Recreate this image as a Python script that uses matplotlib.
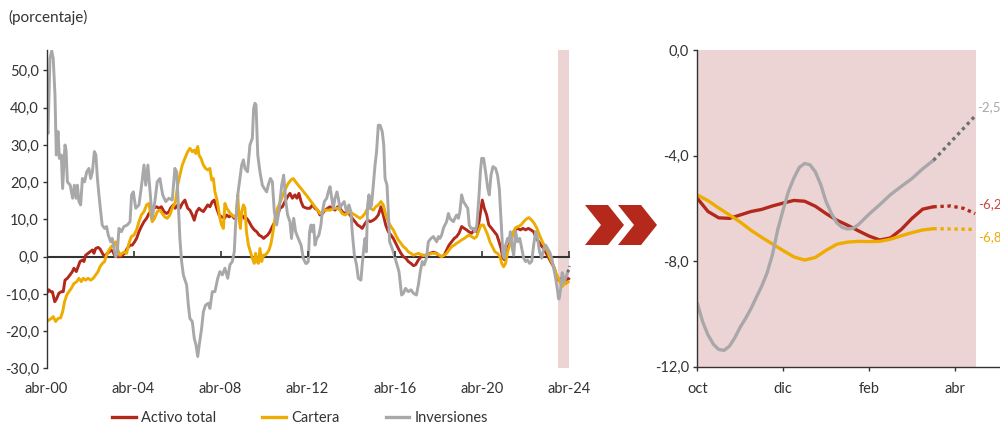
import matplotlib
matplotlib.use("Agg")
import matplotlib.pyplot as plt
from matplotlib.patches import Polygon
from matplotlib.lines import Line2D
from matplotlib.ticker import FixedLocator, FuncFormatter

plt.rcParams['font.family'] = ['Lato', 'DejaVu Sans']

RED = '#b2291c'
YELLOW = '#eeac00'
GRAY = '#a8a8aa'
GRAY_PROJ = '#707070'
SHADE = '#ecd4d4'
TEXT = '#333333'
AXIS = '#333333'
FS = 10.5

# ---------------- history: years since April 2000 ----------------
gray_t = [0.01, 0.07, 0.16, 0.24, 0.31, 0.39, 0.45, 0.53, 0.59, 0.68, 0.74, 0.85, 0.9, 0.96,
          1.09, 1.2, 1.28, 1.36, 1.42, 1.49, 1.57, 1.65, 1.75, 1.85, 1.95, 2.03, 2.11, 2.2,
          2.27, 2.34, 2.41, 2.49, 2.56, 2.67, 2.76, 2.84, 2.95, 3.02, 3.1, 3.18, 3.25, 3.33,
          3.44, 3.56, 3.71, 3.84, 3.91, 3.99, 4.1, 4.25, 4.37, 4.48, 4.56, 4.66, 4.76, 4.86,
          4.98, 5.09, 5.21, 5.34, 5.48, 5.63, 5.78, 5.9, 5.98, 6.06, 6.13, 6.21, 6.29, 6.44,
          6.52, 6.59, 6.7, 6.79, 6.87, 6.95, 7.02, 7.13, 7.21, 7.31, 7.44, 7.51, 7.62, 7.74,
          7.87, 7.97, 8.08, 8.2, 8.33, 8.43, 8.54, 8.63, 8.69, 8.79, 8.89, 8.97, 9.05, 9.12,
          9.24, 9.35, 9.46, 9.52, 9.58, 9.63, 9.71, 9.81, 9.92, 10.01, 10.12, 10.19, 10.29,
          10.38, 10.47, 10.58, 10.68, 10.81, 10.9, 11.0, 11.08, 11.19, 11.26, 11.36, 11.45,
          11.57, 11.7, 11.8, 11.91, 11.96, 12.03, 12.09, 12.16, 12.22, 12.28, 12.34, 12.42,
          12.52, 12.61, 12.68, 12.77, 12.88, 12.95, 13.03, 13.11, 13.18, 13.26, 13.35, 13.41,
          13.49, 13.56, 13.68, 13.79, 13.9, 13.99, 14.05, 14.15, 14.25, 14.33, 14.45, 14.51,
          14.58, 14.64, 14.7, 14.76, 14.82, 14.88, 14.94, 15.02, 15.1, 15.17, 15.25, 15.33,
          15.43, 15.5, 15.56, 15.65, 15.71, 15.77, 15.83, 15.94, 16.02, 16.11, 16.2, 16.32,
          16.41, 16.5, 16.63, 16.75, 16.86, 17.0, 17.09, 17.18, 17.27, 17.36, 17.46, 17.55,
          17.67, 17.78, 17.93, 18.01, 18.08, 18.16, 18.24, 18.31, 18.39, 18.47, 18.54, 18.62,
          18.7, 18.77, 18.85, 18.93, 19.0, 19.08, 19.16, 19.26, 19.36, 19.43, 19.51, 19.62,
          19.69, 19.78, 19.88, 19.94, 20.0, 20.09, 20.18, 20.28, 20.35, 20.43, 20.52, 20.64,
          20.73, 20.81, 20.87, 20.92, 20.98, 21.04, 21.1, 21.19, 21.25, 21.32, 21.41, 21.47,
          21.56, 21.65, 21.75, 21.84, 21.93, 22.02, 22.11, 22.2, 22.3, 22.39, 22.48, 22.57,
          22.66, 22.76, 22.85, 22.94, 23.03, 23.12, 23.22, 23.31, 23.4]
gray_v = [36.2, 33.1, 53.2, 55.3, 53.2, 43.4, 27.3, 33.6, 26.4, 27.3, 18.3, 30.0, 28.5, 20.1,
          19.2, 15.7, 19.2, 15.7, 19.2, 14.8, 13.9, 21.0, 20.1, 22.8, 23.7, 21.0, 22.8, 28.2,
          27.3, 21.0, 16.6, 12.1, 8.5, 7.6, 8.1, 5.8, 4.0, 4.9, 2.2, 0.0, 0.9, 7.6,
          6.7, 8.1, 8.5, 9.4, 16.6, 17.4, 13.0, 13.9, 19.2, 24.6, 19.2, 24.6, 17.4, 10.3,
          14.8, 20.1, 21.0, 16.6, 14.8, 15.7, 15.2, 23.7, 22.8, 13.9, 4.9, -1.3, -4.9, -7.6,
          -13.0, -16.6, -17.4, -21.9, -23.7, -26.8, -23.7, -19.2, -14.8, -13.0, -12.5, -13.9, -9.4, -9.4,
          -5.8, -4.0, -4.9, -3.1, -5.8, -2.2, -1.3, 1.3, 8.5, 16.6, 21.0, 24.6, 26.0, 23.7,
          22.8, 30.0, 31.8, 39.8, 41.2, 40.7, 27.3, 22.8, 19.2, 18.3, 17.4, 19.2, 21.0,
          20.1, 12.1, 8.5, 12.1, 19.2, 21.9, 14.8, 11.2, 9.4, 4.9, 10.3, 6.7,
          4.9, 3.1, -0.4, -1.8, -1.8, -1.3, 6.7, 8.5, 6.7, 8.5, 3.1, 4.9,
          5.8, 8.5, 12.1, 14.8, 15.7, 17.4, 18.8, 15.7, 13.0, 15.7, 17.4, 15.7,
          13.0, 13.9, 14.8, 12.1, 13.9, 12.1, 6.7, 0.4, -2.2, -5.8, -6.3, -2.2,
          2.2, 4.9, 1.3, 13.9, 16.6, 13.0, 13.9, 19.2, 24.6, 28.2, 35.3, 35.3,
          33.6, 30.0, 21.0, 19.2, 12.1, 4.0, 3.1, 1.3, -0.4, -2.2, -4.0, -10.3,
          -9.8, -8.5, -9.4, -8.9, -9.8, -10.3, -7.6, -4.0, -1.3, -2.2, -0.4, 4.0,
          4.9, 5.4, 4.0, 5.4, 4.9, 5.8, 7.6, 8.5, 9.4, 11.6, 10.3, 9.8,
          9.4, 10.3, 11.2, 10.3, 12.1, 16.6, 14.8, 13.9, 13.0, 8.5, 7.6, 7.6,
          6.7, 8.5, 16.6, 22.8, 26.4, 26.4, 22.8, 18.3, 16.6, 21.9, 24.2, 23.7,
          21.9, 18.3, 12.1, 6.7, 0.4, -0.4, 3.1, 4.9, 4.0, 6.7, 2.2, 0.4,
          6.7, 4.0, 4.9, 2.2, -0.4, -1.3, -0.9, -1.8, -1.3, 3.1, 6.7, 4.9,
          1.3, -0.4, 2.2, 3.1, 2.2, 1.3, -0.4, -3.1, -5.8]

red_t = [0.01, 0.11, 0.19, 0.27, 0.38, 0.47, 0.57, 0.68, 0.77, 0.85, 0.96, 1.08, 1.19, 1.26,
         1.37, 1.45, 1.54, 1.65, 1.72, 1.8, 1.91, 2.0, 2.11, 2.18, 2.26, 2.37, 2.46, 2.57,
         2.67, 2.79, 2.89, 2.95, 3.04, 3.13, 3.25, 3.38, 3.48, 3.59, 3.71, 3.84, 3.94, 4.05,
         4.14, 4.25, 4.36, 4.48, 4.6, 4.71, 4.82, 4.94, 5.06, 5.17, 5.28, 5.4, 5.52, 5.63,
         5.7, 5.83, 5.91, 6.03, 6.13, 6.24, 6.36, 6.49, 6.59, 6.7, 6.79, 6.9, 7.01, 7.1,
         7.21, 7.31, 7.41, 7.51, 7.62, 7.71, 7.82, 7.93, 8.05, 8.17, 8.28, 8.39, 8.51, 8.63,
         8.74, 8.85, 8.97, 9.09, 9.2, 9.31, 9.43, 9.55, 9.66, 9.77, 9.89, 9.98, 10.07, 10.16,
         10.27, 10.38, 10.5, 10.62, 10.73, 10.84, 10.96, 11.08, 11.19, 11.3, 11.42, 11.51,
         11.6, 11.7, 11.8, 11.96, 12.11, 12.22, 12.34, 12.46, 12.57, 12.68, 12.8, 12.92,
         13.03, 13.14, 13.26, 13.38, 13.49, 13.59, 13.72, 13.84, 13.95, 14.05, 14.18, 14.3,
         14.41, 14.51, 14.64, 14.76, 14.88, 15.02, 15.13, 15.25, 15.37, 15.48, 15.59, 15.71,
         15.83, 15.94, 16.05, 16.17, 16.29, 16.4, 16.51, 16.63, 16.75, 16.86, 16.96, 17.09,
         17.21, 17.32, 17.47, 17.62, 17.78, 17.93, 18.01, 18.16, 18.28, 18.39, 18.5, 18.62,
         18.74, 18.85, 18.96, 19.08, 19.2, 19.31, 19.41, 19.54, 19.66, 19.77, 19.88, 19.97,
         20.03, 20.12, 20.23, 20.33, 20.46, 20.58, 20.7, 20.8, 20.89, 20.98, 21.07, 21.16,
         21.25, 21.35, 21.44, 21.53, 21.65, 21.78, 21.9, 22.02, 22.14, 22.26, 22.39, 22.51,
         22.63, 22.72, 22.85, 22.97, 23.09, 23.22, 23.34, 23.42]
red_v = [-9.8, -8.9, -9.4, -9.4, -12.1, -11.2, -9.8, -9.4, -9.4, -6.3, -5.8, -4.9, -4.0, -3.1,
         -4.0, -2.7, -1.3, -0.9, -1.3, 0.4, 0.9, 1.3, 1.8, 0.9, 2.2, 2.5, 2.1, 0.9,
         0.0, 0.9, 1.3, 1.8, 1.5, 0.4, 0.0, 0.0, 0.4, 0.9, 2.2, 3.1, 3.1, 4.0,
         4.9, 6.7, 8.1, 9.4, 10.3, 11.6, 12.1, 13.0, 13.4, 13.0, 13.4, 12.1, 11.6, 12.1,
         13.0, 13.9, 13.0, 13.9, 13.0, 14.3, 15.2, 13.0, 12.5, 11.2, 9.8, 12.1, 13.0, 12.5,
         12.1, 13.0, 13.9, 13.4, 14.8, 15.2, 13.0, 11.2, 10.7, 10.3, 11.2, 10.7, 11.2, 10.3,
         11.2, 11.6, 11.2, 10.3, 10.3, 9.4, 8.1, 7.2, 6.7, 5.8, 5.4, 4.9, 5.4, 5.8,
         6.7, 8.1, 9.4, 11.2, 13.0, 13.4, 14.8, 16.1, 17.0, 15.7, 16.6, 15.7,
         17.0, 14.8, 13.4, 13.0, 13.0, 13.9, 13.0, 12.5, 11.2, 11.6, 12.5, 13.0,
         13.4, 13.0, 12.5, 13.4, 13.0, 12.1, 11.6, 12.1, 11.2, 10.3, 9.4, 8.5,
         8.1, 7.6, 8.9, 9.8, 9.4, 9.8, 10.3, 11.2, 13.4, 11.2, 8.5, 6.7,
         5.8, 4.9, 3.6, 2.2, 0.9, 0.0, -0.4, -1.3, -1.8, -2.4, -2.2, -0.9,
         0.0, 0.4, 0.3, 0.9, 1.2, 0.9, 0.4, 0.0, 0.4, 1.8, 3.1, 4.0,
         4.9, 5.4, 6.3, 8.1, 7.6, 7.2, 6.7, 6.3, 7.2, 6.7, 9.4, 13.0,
         15.2, 13.0, 11.2, 8.5, 7.6, 6.7, 5.8, 4.0, 2.2, -0.4, -0.9, 1.3,
         3.1, 4.9, 6.3, 7.2, 7.6, 7.2, 7.6, 7.2, 7.6, 7.2, 6.7, 4.9,
         4.0, 3.1, 2.2, 0.9, -0.4, -1.8, -3.1, -4.9]

yellow_t = [0.01, 0.11, 0.22, 0.31, 0.42, 0.53, 0.65, 0.74, 0.83, 0.93, 1.03, 1.14, 1.26, 1.39,
            1.49, 1.6, 1.69, 1.8, 1.91, 2.03, 2.15, 2.26, 2.37, 2.46, 2.57, 2.67, 2.76, 2.87,
            2.98, 3.07, 3.18, 3.25, 3.38, 3.48, 3.59, 3.68, 3.79, 3.9, 4.02, 4.14, 4.25, 4.36,
            4.48, 4.6, 4.71, 4.79, 4.86, 4.97, 5.09, 5.21, 5.32, 5.43, 5.55, 5.67, 5.78, 5.93,
            6.03, 6.13, 6.24, 6.36, 6.49, 6.59, 6.7, 6.79, 6.86, 6.95, 7.01, 7.1, 7.21, 7.31,
            7.41, 7.51, 7.59, 7.67, 7.74, 7.82, 7.9, 7.97, 8.05, 8.13, 8.2, 8.28, 8.39, 8.51,
            8.63, 8.72, 8.79, 8.85, 8.91, 8.97, 9.05, 9.12, 9.19, 9.28, 9.37, 9.46, 9.55, 9.61,
            9.67, 9.74, 9.81, 9.89, 9.97, 10.04, 10.13, 10.23, 10.32, 10.41, 10.5, 10.62, 10.75,
            10.87, 10.99, 11.11, 11.24, 11.34, 11.45, 11.57, 11.7, 11.82, 12.0, 12.11, 12.22,
            12.34, 12.46, 12.57, 12.68, 12.8, 13.03, 13.26, 13.38, 13.49, 13.59, 13.72, 13.84,
            13.95, 14.05, 14.18, 14.3, 14.41, 14.51, 14.64, 14.76, 14.88, 15.02, 15.13, 15.25,
            15.37, 15.48, 15.59, 15.71, 15.83, 15.94, 16.05, 16.17, 16.29, 16.4, 16.51, 16.63,
            16.75, 16.86, 16.96, 17.09, 17.21, 17.32, 17.43, 17.55, 17.7, 17.86, 18.01, 18.16,
            18.28, 18.39, 18.5, 18.62, 18.74, 18.85, 18.96, 19.08, 19.2, 19.31, 19.41, 19.54,
            19.66, 19.77, 19.88, 19.97, 20.08, 20.15, 20.28, 20.38, 20.49, 20.61, 20.73, 20.84,
            20.92, 21.01, 21.1, 21.19, 21.29, 21.38, 21.47, 21.56, 21.68, 21.81, 21.93, 22.05,
            22.17, 22.3, 22.42, 22.54, 22.66, 22.79, 22.91, 23.03, 23.14, 23.25, 23.34, 23.42]
yellow_v = [-17.4, -17.0, -16.6, -16.1, -17.4, -16.6, -16.4, -14.8, -12.1, -10.3, -9.4, -8.5, -7.2, -6.7,
            -5.8, -6.7, -5.8, -6.3, -5.8, -6.3, -5.8, -4.9, -4.0, -2.7, -1.8, -1.3, 0.4, 1.8,
            2.7, 3.1, 4.0, 2.2, 0.4, 0.9, 1.3, 0.9, 3.6, 5.4, 5.8, 7.2, 9.4, 11.2,
            12.1, 13.9, 14.3, 11.2, 9.4, 10.3, 12.1, 12.5, 11.6, 10.7, 10.3, 11.2, 13.0, 14.8,
            19.2, 21.9, 24.6, 26.4, 28.2, 29.1, 28.2, 28.6, 27.7, 29.6, 27.3, 26.4, 24.6, 23.7,
            23.3, 23.7, 20.6, 21.0, 17.4, 15.7, 13.0, 10.3, 8.5, 7.6, 14.3, 13.0, 12.1, 11.2,
            10.7, 11.2, 16.6, 10.3, 7.6, 12.1, 13.9, 13.0, 6.7, 3.1, 1.3, -0.4, -1.8, 0.9,
            -1.3, -1.8, 2.2, -1.3, 0.4, 0.4, 0.9, 1.8, 3.6, 6.7, 10.3, 13.0, 14.8,
            16.6, 18.3, 19.7, 20.6, 21.0, 20.1, 19.2, 18.3, 17.4, 16.1, 15.2, 14.3,
            13.4, 12.5, 11.6, 12.1, 12.5, 12.5, 13.0, 13.0, 12.5, 11.6, 11.2, 11.6,
            12.1, 11.6, 11.2, 10.7, 10.3, 10.7, 11.6, 13.0, 13.0, 12.5, 13.4, 13.9,
            14.8, 13.9, 11.2, 9.4, 8.1, 7.2, 5.8, 4.5, 3.6, 2.7, 2.2, 1.3,
            0.9, 0.4, 0.6, 0.9, 0.6, 0.3, 0.4, 0.6, 0.9, 0.9, 0.6, 0.0,
            0.4, 0.9, 1.8, 2.7, 3.1, 3.6, 4.0, 4.5, 4.9, 5.4, 5.8, 5.4,
            4.9, 5.4, 7.2, 8.5, 8.5, 7.6, 5.8, 4.0, 2.7, 1.3, 0.9, 0.0,
            -1.8, -2.7, -1.8, 1.3, 3.1, 4.9, 6.7, 7.8, 8.1, 8.5, 9.4, 10.1,
            10.5, 9.8, 8.9, 7.6, 5.8, 4.0, 2.7, 1.3, -0.4, -1.8, -3.1, -4.5]

# ---------------- recent weekly data: months since October 2023 ----------------
recent_m = [0, 0.25, 0.5, 0.75, 1.0, 1.25, 1.5, 1.75, 2.0, 2.25, 2.5, 2.75,
            3.0, 3.25, 3.5, 3.75, 4.0, 4.25, 4.5, 4.75, 5.0, 5.25, 5.5]
recent_red = [-5.62, -6.12, -6.36, -6.38, -6.25, -6.12, -6.04, -5.91, -5.80, -5.70, -5.73, -5.92,
              -6.20, -6.45, -6.64, -6.85, -7.05, -7.20, -7.12, -6.80, -6.38, -6.03, -5.94]
recent_yellow = [-5.49, -5.71, -5.99, -6.25, -6.52, -6.83, -7.10, -7.35, -7.60, -7.84, -7.96, -7.86,
                 -7.59, -7.36, -7.28, -7.25, -7.26, -7.25, -7.17, -7.04, -6.92, -6.82, -6.77]
# investments are observed more often
gray_m = [0, 0.125, 0.25, 0.375, 0.5, 0.625, 0.75, 0.875, 1.0, 1.125, 1.25, 1.375, 1.5, 1.625,
          1.75, 1.875, 2.0, 2.125, 2.25, 2.375, 2.5, 2.625, 2.75, 2.875, 3.0, 3.125, 3.25,
          3.375, 3.5, 3.625, 3.75, 3.875, 4.0, 4.25, 4.5, 4.75, 5.0, 5.25, 5.5]
recent_gray = [-9.60, -10.30, -10.80, -11.15, -11.35, -11.38, -11.22, -10.90, -10.50, -10.17,
               -9.80, -9.37, -8.95, -8.45, -7.75, -6.80, -6.05, -5.35, -4.85, -4.45, -4.30,
               -4.35, -4.62, -5.10, -5.75, -6.20, -6.55, -6.72, -6.78, -6.76, -6.62, -6.42,
               -6.22, -5.86, -5.48, -5.17, -4.87, -4.50, -4.18]

# projection to mid-April
proj_m = [5.5, 5.9, 6.2, 6.47]
proj_red = [-5.94, -5.91, -6.00, -6.2]
proj_yellow = [-6.77, -6.78, -6.79, -6.8]
proj_gray = [-4.18, -3.49, -2.97, -2.5]

names = ['Activo total', 'Cartera', 'Inversiones']
colors = [RED, YELLOW, GRAY]
proj_colors = [RED, YELLOW, GRAY_PROJ]

left_ticks = [0, 4, 8, 12, 16, 20, 24]
left_labels = ['abr-00', 'abr-04', 'abr-08', 'abr-12', 'abr-16', 'abr-20', 'abr-24']
right_ticks = [0, 2, 4, 6]
right_labels = ['oct', 'dic', 'feb', 'abr']


def comma(v, _pos=None):
    return f"{v:.1f}".replace('.', ',')


W, H = 1000, 424
fig = plt.figure(figsize=(W / 100, H / 100), dpi=100)

# ---------------- left panel ----------------
axl = fig.add_axes([46.5 / W, 1 - 368.4 / H, (570 - 46.5) / W, 318.4 / H])
axl.set_xlim(0, 24.06)
axl.set_ylim(-30, 55.5)
axl.axvspan(23.5, 24.0, color=SHADE, zorder=0, lw=0)
axl.axhline(0, color=AXIS, lw=1.5, zorder=1)

off = 23.5
series = [(red_t, red_v, recent_m, recent_red, proj_red),
          (yellow_t, yellow_v, recent_m, recent_yellow, proj_yellow),
          (gray_t, gray_v, gray_m, recent_gray, proj_gray)]
for (t, v, rm, rec, pr), c, pc in zip(series, colors, proj_colors):
    xs = list(t) + [off + m / 12 for m in rm]
    ys = list(v) + list(rec)
    axl.plot(xs, ys, color=c, lw=2.1, zorder=2, solid_joinstyle='round')
    axl.plot([off + m / 12 for m in proj_m], pr, color=pc, lw=2.0,
             linestyle=(0, (1, 1)), zorder=2, clip_on=False)

axl.plot(left_ticks[1:], [0] * (len(left_ticks) - 1), linestyle='none', marker=2,
         markersize=4, markeredgewidth=1.2, color=AXIS, zorder=3)

for s in ['top', 'right', 'bottom']:
    axl.spines[s].set_visible(False)
axl.spines['left'].set_color(AXIS)
axl.spines['left'].set_linewidth(1.0)
axl.yaxis.set_major_locator(FixedLocator([50, 40, 30, 20, 10, 0, -10, -20, -30]))
axl.yaxis.set_major_formatter(FuncFormatter(comma))
axl.set_xticks(left_ticks)
axl.set_xticklabels(left_labels)
axl.tick_params(axis='x', length=0, pad=10, labelsize=FS, labelcolor=TEXT)
axl.tick_params(axis='y', length=3, width=1, color=AXIS, pad=2.5, labelsize=FS, labelcolor=TEXT)

# ---------------- right panel ----------------
axr = fig.add_axes([697.3 / W, 1 - 366.7 / H, (W - 697.3) / W, 316.7 / H])
axr.set_xlim(0, 7.05)
axr.set_ylim(-12, 0)
axr.axvspan(0, 6.5, color=SHADE, zorder=0, lw=0)
for (t, v, rm, rec, pr), c, pc in zip(series, colors, proj_colors):
    axr.plot(rm, rec, color=c, lw=2.4, zorder=2, solid_joinstyle='round',
             solid_capstyle='round')
    axr.plot(proj_m, pr, color=pc, lw=2.4, linestyle=(0, (1, 1.1)), zorder=2)

label_offsets = [(3, 9), (3, -8), (2, 9)]
label_colors = ['#c9483a', YELLOW, GRAY]
for pr, lc, (dx, dy) in zip([proj_red, proj_yellow, proj_gray], label_colors, label_offsets):
    axr.annotate(comma(pr[-1]), (proj_m[-1], pr[-1]), xytext=(dx, dy),
                 textcoords='offset pixels', color=lc, fontsize=9.5,
                 ha='left', va='center', annotation_clip=False)

for s in ['top', 'right']:
    axr.spines[s].set_visible(False)
for s in ['left', 'bottom']:
    axr.spines[s].set_color(AXIS)
    axr.spines[s].set_linewidth(1.0)
axr.yaxis.set_major_locator(FixedLocator([0, -4, -8, -12]))
axr.yaxis.set_major_formatter(FuncFormatter(comma))
axr.set_xticks(right_ticks)
axr.set_xticklabels(right_labels)
axr.tick_params(axis='x', length=3, width=1, color=AXIS, pad=8, labelsize=FS, labelcolor=TEXT)
axr.tick_params(axis='y', length=3, width=1, color=AXIS, pad=3, labelsize=FS, labelcolor=TEXT)

# ---------------- chevrons between panels ----------------
def chevron(x0):
    pts = [(x0, 205), (x0 + 23, 205), (x0 + 39, 225), (x0 + 23, 245), (x0, 245), (x0 + 16, 225)]
    return Polygon([(x / W, 1 - y / H) for x, y in pts], closed=True,
                   transform=fig.transFigure, facecolor='#b5281c', edgecolor='none')

fig.add_artist(chevron(585))
fig.add_artist(chevron(618))

# ---------------- titles and legend ----------------
fig.text(8 / W, 1 - 17 / H, '(porcentaje)', ha='left', va='center', fontsize=FS + 0.5, color=TEXT)

handles = [Line2D([], [], color=c, lw=2.4) for c in colors]
fig.legend(handles, names, loc='center', bbox_to_anchor=(300 / W, 1 - 418 / H), ncol=3,
           frameon=False, fontsize=FS, handlelength=1.6, handletextpad=0.35,
           columnspacing=3.2, labelcolor=TEXT, borderaxespad=0, borderpad=0)

fig.savefig('out.png', dpi=100)
